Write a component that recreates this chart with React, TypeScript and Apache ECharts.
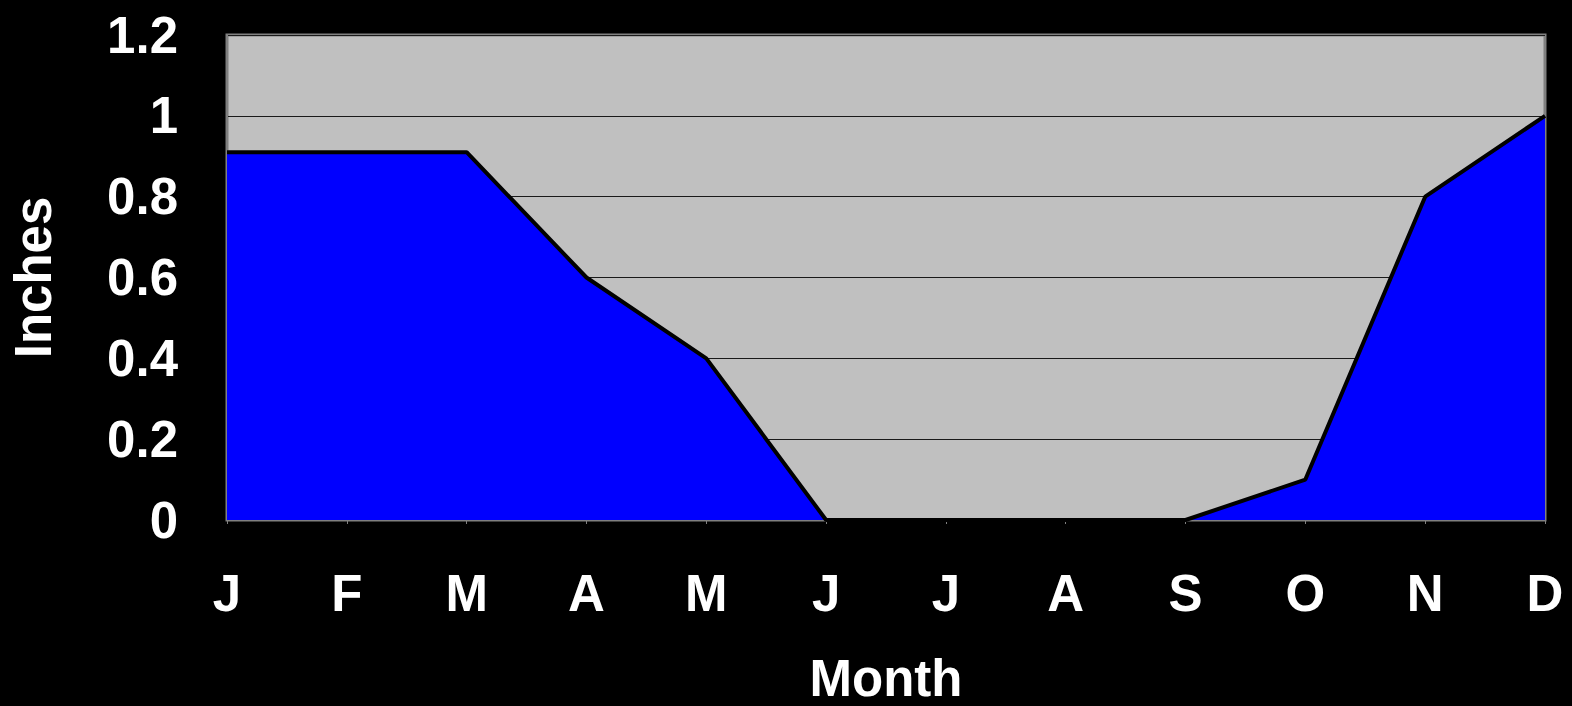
import React, { useEffect, useRef } from "react";
import * as echarts from "echarts";

const months = ["J", "F", "M", "A", "M", "J", "J", "A", "S", "O", "N", "D"];
const inches = [0.91, 0.91, 0.91, 0.6, 0.4, 0, 0, 0, 0, 0.1, 0.8, 1.0];
const yTicks = { min: 0, max: 1.2, interval: 0.2 };

const FONT = "'Liberation Sans', Arial, sans-serif";

export default function App() {
  const ref = useRef<HTMLDivElement>(null);
  useEffect(() => {
    if (!ref.current) return;
    const chart = echarts.init(ref.current, null, { renderer: "svg" });
    chart.setOption({
      animation: false,
      backgroundColor: "#000000",
      grid: {
        left: 227,
        right: 27,
        top: 35,
        bottom: 186,
        outerBoundsMode: "none",
        containLabel: false,
        show: true,
        backgroundColor: "#c0c0c0",
        borderColor: "#808080",
        borderWidth: 3,
      },
      xAxis: {
        type: "category",
        data: months,
        boundaryGap: false,
        name: "Month",
        nameLocation: "middle",
        nameGap: 138,
        nameTextStyle: { color: "#ffffff", fontSize: 51, lineHeight: 40, fontWeight: "bold", fontFamily: FONT },
        axisLine: { show: true, lineStyle: { color: "#808080", width: 2 } },
        axisTick: { show: true, length: 4, lineStyle: { color: "#808080", width: 1 } },
        axisLabel: { color: "#ffffff", fontSize: 51, fontWeight: "bold", fontFamily: FONT, margin: 48 },
        splitLine: { show: false },
      },
      yAxis: {
        type: "value",
        min: yTicks.min,
        max: yTicks.max,
        interval: yTicks.interval,
        name: "Inches",
        nameLocation: "middle",
        nameRotate: 90,
        nameGap: 168,
        nameTextStyle: { color: "#ffffff", fontSize: 51, fontWeight: "bold", fontFamily: FONT },
        axisLine: { show: true, lineStyle: { color: "#808080", width: 2 } },
        axisTick: { show: false },
        axisLabel: { color: "#ffffff", fontSize: 51, fontWeight: "bold", fontFamily: FONT, margin: 49 },
        splitLine: { show: true, lineStyle: { color: "#1a1a1a", width: 1 } },
      },
      series: [
        {
          type: "line",
          data: inches,
          symbol: "none",
          lineStyle: { color: "#000000", width: 4 },
          areaStyle: { color: "#0000ff", opacity: 1 },
        },
      ],
    });
    return () => chart.dispose();
  }, []);
  return (
    <div
      ref={ref}
      style={{ position: "fixed", left: 0, top: 0, width: 1572, height: 706, background: "#000" }}
    />
  );
}
